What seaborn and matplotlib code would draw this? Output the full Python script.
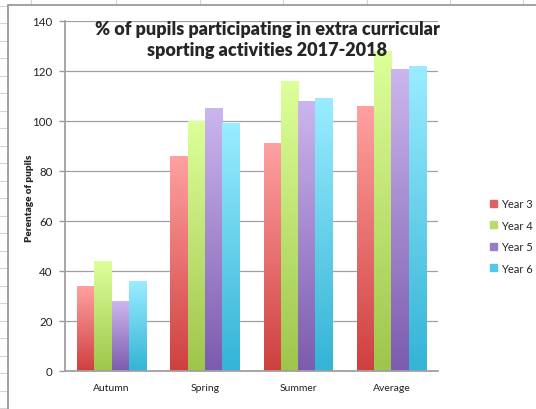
import numpy as np
import pandas as pd
import seaborn as sns
import matplotlib.pyplot as plt
from matplotlib.lines import Line2D
from matplotlib.colors import to_rgb, LinearSegmentedColormap

terms = ['Autumn', 'Spring', 'Summer', 'Average']
years = ['Year 3', 'Year 4', 'Year 5', 'Year 6']
year3 = [34, 86, 91, 106]
year4 = [44, 100, 116, 128]
year5 = [28, 105, 108, 120.5]
year6 = [36, 99, 109, 122]

# gradient ends (top light, bottom dark) like the excel style
tops = ['#ffa0a0', '#ddff99', '#cbb5ee', '#99ecff']
bottoms = ['#cf4040', '#9ec64c', '#7c5cae', '#34b4d6']
mids = ['#e06060', '#b8dc6a', '#9a7cc8', '#50c8e8']

df = pd.DataFrame({
    'term': terms * 4,
    'pct': year3 + year4 + year5 + year6,
    'year': [y for y in years for _ in terms],
})

sns.set_style('white')
plt.rcParams['font.family'] = ['Lato', 'DejaVu Sans']

fig = plt.figure(figsize=(5.36, 4.10), dpi=100)
ax = fig.add_axes([65 / 536, 1 - 372 / 410, 373 / 536, 350 / 410])

sns.barplot(data=df, x='term', y='pct', hue='year', palette=mids,
            width=0.74, gap=0, ax=ax, legend=False, errorbar=None)

# swap flat bars for vertical gradients
for cont, top, bot in zip(ax.containers, tops, bottoms):
    cmap = LinearSegmentedColormap.from_list('g', [to_rgb(bot), to_rgb(top)])
    for bar in cont:
        x0 = bar.get_x()
        w = bar.get_width()
        h = bar.get_height()
        grad = np.linspace(0, 1, 64).reshape(-1, 1)
        ax.imshow(grad, cmap=cmap, origin='lower', aspect='auto',
                  extent=(x0, x0 + w, 0, h), zorder=2, interpolation='bilinear')
        bar.set_visible(False)

ax.set_xlim(-0.5, 3.5)
ax.set_ylim(0, 140)
ax.set_yticks(range(0, 141, 20))
ax.yaxis.grid(True, color='#a0a0a0', linewidth=0.9)
ax.set_axisbelow(True)
ax.set_xlabel('')
ax.set_ylabel('')

ax.set_xticks(range(4))
ax.set_xticklabels(terms)
ax.set_xticks([-0.5, 0.5, 1.5, 2.5, 3.5], minor=True)
ax.tick_params(axis='x', which='major', length=0, pad=9, labelsize=7.5, labelcolor='#222222')
ax.tick_params(axis='x', which='minor', length=4, color='#999999', width=1)
ax.tick_params(axis='y', length=4, color='#999999', width=1, labelsize=8.3,
               labelcolor='#222222', pad=5, left=True)

for side in ['top', 'right']:
    ax.spines[side].set_visible(False)
for side in ['left', 'bottom']:
    ax.spines[side].set_color('#a0a0a0')
    ax.spines[side].set_linewidth(1.3)

fig.text(267 / 536, 1 - 40 / 410,
         '% of pupils participating in extra curricular\nsporting activities 2017-2018',
         ha='center', va='center', fontsize=13, fontweight='heavy', linespacing=1.35)
fig.text(30 / 536, 1 - 198 / 410, 'Perentage of pupils', rotation=90,
         ha='center', va='center', fontsize=7.2, fontweight='heavy')

handles = [plt.Rectangle((0, 0), 1, 1, color=c) for c in mids]
fig.legend(handles, years, loc='upper left', bbox_to_anchor=(490 / 536, 1 - 199 / 410),
           frameon=False, fontsize=8, handlelength=0.6, handleheight=0.6,
           handletextpad=0.4, labelspacing=0.95, borderaxespad=0, borderpad=0)

# spreadsheet grid peeking around the chart frame
for y in np.arange(6.7, 410, 17.5):
    fig.add_artist(Line2D([0, 7.5 / 536], [1 - y / 410] * 2, color='#d4d4d4', lw=0.8))
for x in [30.8, 116, 200, 283, 366.5, 449.6, 523]:
    fig.add_artist(Line2D([x / 536] * 2, [1, 1 - 6 / 410], color='#d4d4d4', lw=0.8))
fig.add_artist(Line2D([7.5 / 536, 7.5 / 536], [0, 1 - 6 / 410], color='#9a9a9a', lw=1.3))
fig.add_artist(Line2D([7.5 / 536, 1], [1 - 6 / 410] * 2, color='#9a9a9a', lw=1.3))

fig.savefig('out.png', dpi=100)
